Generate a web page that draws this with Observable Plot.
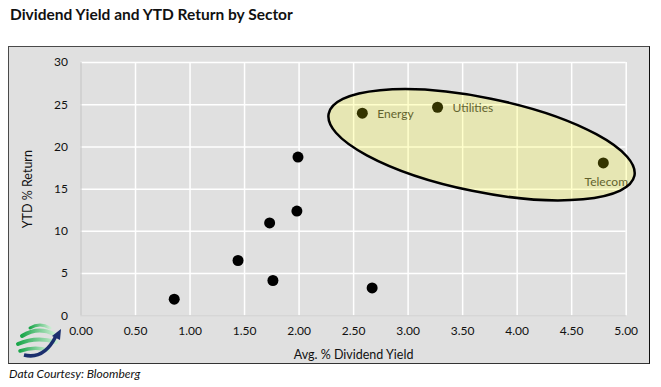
<!DOCTYPE html>
<html>
<head>
<meta charset="utf-8">
<script src="https://cdn.jsdelivr.net/npm/d3@7"></script>
<script src="https://cdn.jsdelivr.net/npm/@observablehq/plot@0.6"></script>
<style>
  html, body { margin: 0; padding: 0; background: #ffffff; }
  body { width: 661px; height: 387px; position: relative; overflow: hidden; font-family: Lato, "Open Sans", sans-serif; }
  #title { position: absolute; left: 10px; top: 5px; font-size: 15.5px; font-weight: bold; color: #111; }
  #frame { position: absolute; left: 8px; top: 46px; width: 640px; height: 316px; background: #e0e0e0; border: 1.5px solid #4a4a4a; border-right-color: #111; border-bottom-color: #333; }
  #chart { position: absolute; left: 0; top: 0; }
  #caption { position: absolute; left: 9px; top: 366px; font-size: 12px; font-style: italic; color: #111; }
  #logo { position: absolute; left: 0; top: 0; }
</style>
</head>
<body>
<div id="title">Dividend Yield and YTD Return by Sector</div>
<div id="frame"></div>
<svg id="logo" width="661" height="387">
  <defs>
    <linearGradient id="g1" x1="0" x2="1" y1="0" y2="0">
      <stop offset="0" stop-color="#1aa64a"/>
      <stop offset="1" stop-color="#c8ecd0"/>
    </linearGradient>
  </defs>
  <g fill="none" stroke="url(#g1)" stroke-linecap="round">
    <path d="M30 328 Q40 322 50 328" stroke-width="3"/>
    <path d="M22 336 Q38 326 54 334" stroke-width="4"/>
    <path d="M18 344 Q36 336 56 342" stroke-width="4"/>
    <path d="M20 351 Q34 346 48 350" stroke-width="3.5"/>
  </g>
  <path d="M24 355 Q44 360 56 336" fill="none" stroke="#1b2f6e" stroke-width="3.5"/>
  <path d="M52 336 L61 329 L60 340 Z" fill="#1b2f6e"/>
</svg>
<div id="chart"></div>
<div id="caption">Data Courtesy: Bloomberg</div>
<script>
// Sector data
const sectors = ["", "", "", "", "", "", "", "Energy", "Utilities", "Telecom"];
const yieldPct = [0.855, 1.44, 1.73, 1.76, 1.98, 1.99, 2.67, 2.58, 3.27, 4.79];
const ytdReturn = [1.97, 6.55, 11.0, 4.18, 12.4, 18.8, 3.3, 24.0, 24.7, 18.1];
const xTicks = [0, 0.5, 1, 1.5, 2, 2.5, 3, 3.5, 4, 4.5, 5];
const yTicks = [0, 5, 10, 15, 20, 25, 30];

const points = sectors.map((s, i) => ({sector: s, x: yieldPct[i], y: ytdReturn[i]}));
const rightLabels = points.filter(d => d.sector === "Energy" || d.sector === "Utilities");
const belowLabels = points.filter(d => d.sector === "Telecom");

// highlight ellipse: centre in data units, radii/rotation in pixels
const highlight = {cx: 3.678, cy: 20.2, rx: 156, ry: 47, angle: 11.5};

const ellipseMark = (fill) => (index, scales) => {
  const ns = "http://www.w3.org/2000/svg";
  const e = document.createElementNS(ns, "ellipse");
  const px = scales.x(highlight.cx), py = scales.y(highlight.cy);
  e.setAttribute("cx", px);
  e.setAttribute("cy", py);
  e.setAttribute("rx", highlight.rx);
  e.setAttribute("ry", highlight.ry);
  e.setAttribute("transform", `rotate(${highlight.angle} ${px} ${py})`);
  if (fill) {
    e.setAttribute("fill", "#ffff00");
    e.setAttribute("fill-opacity", "0.2");
    e.setAttribute("stroke", "none");
  } else {
    e.setAttribute("fill", "none");
    e.setAttribute("stroke", "#000");
    e.setAttribute("stroke-width", "2.5");
  }
  return e;
};

const chart = Plot.plot({
  width: 661,
  height: 387,
  marginLeft: 80.5,
  marginRight: 35.3,
  marginTop: 62,
  marginBottom: 71.7,
  style: {background: "transparent", fontFamily: "Lato, 'Open Sans', sans-serif", color: "#111"},
  x: {domain: [0, 5]},
  y: {domain: [0, 30]},
  marks: [
    Plot.ruleX(xTicks.filter(d => d > 0), {stroke: "#ffffff", strokeWidth: 1.5, strokeOpacity: 1}),
    Plot.ruleY(yTicks.filter(d => d > 0), {stroke: "#ffffff", strokeWidth: 1.5, strokeOpacity: 1}),
    Plot.ruleX([0], {stroke: "#c4c4c4", strokeWidth: 1}),
    Plot.ruleY([0], {stroke: "#d2d2d2", strokeWidth: 1}),
    Plot.axisX({ticks: xTicks, tickFormat: d3.format(".2f"), tickSize: 0, tickPadding: 11, fontSize: 12,
      label: null}),
    Plot.axisY({ticks: yTicks, tickFormat: d3.format("d"), tickSize: 0, tickPadding: 13, fontSize: 12,
      label: null}),
    Plot.axisX({ticks: [], tickSize: 0, fontSize: 12.5,
      label: "Avg. % Dividend Yield", labelAnchor: "center", labelOffset: 43, labelArrow: "none"}),
    Plot.axisY({ticks: [], tickSize: 0, fontSize: 12.5,
      label: "YTD % Return", labelAnchor: "center", labelOffset: 58, labelArrow: "none"}),
    Plot.dot(points, {x: "x", y: "y", r: 5.5, fill: "#000", stroke: "none"}),
    Plot.text(rightLabels, {x: "x", y: "y", text: "sector", dx: 15, dy: 1, textAnchor: "start", fill: "#3a3a3a", fontSize: 12}),
    Plot.text(belowLabels, {x: "x", y: "y", text: "sector", dx: 3, dy: 19, textAnchor: "middle", fill: "#3a3a3a", fontSize: 12}),
    ellipseMark(true),
    ellipseMark(false)
  ]
});
document.getElementById("chart").appendChild(chart);
</script>
</body>
</html>
